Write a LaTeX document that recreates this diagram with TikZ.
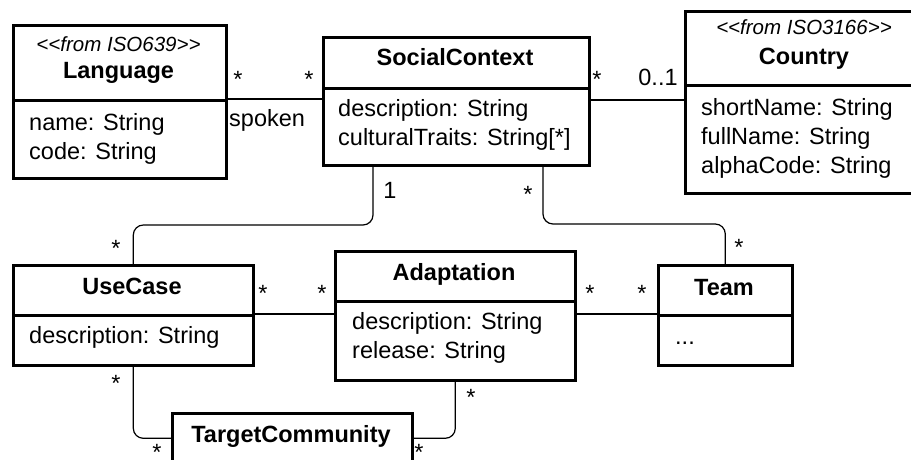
\documentclass[tikz,border=0pt]{standalone}
\usepackage{fontspec}
\setmainfont{Liberation Sans}[Ligatures=TeXOff]
\begin{document}
\begin{tikzpicture}[x=1pt,y=-1pt,
  box/.style={draw=black,line width=2.6pt,anchor=north west,inner sep=0pt,rectangle},
  conn/.style={draw=black,line width=1.2pt,rounded corners=10pt},
  txt/.style={inner sep=0pt,anchor=base},
  attr/.style={inner sep=0pt,anchor=base west},
  cname/.style={txt,font=\bfseries},
  stereo/.style={txt,font=\fontsize{20.5}{24}\selectfont\itshape},
  mult/.style={inner sep=0pt,anchor=base}]
\useasboundingbox (0,0) rectangle (911,460);
\clip (0,0) rectangle (911,460);
\fontsize{23.5}{29}\selectfont
% boxes
\node[box,minimum width=213pt,minimum height=75pt] (lang) at (12,24) {};
\node[box,minimum width=213pt,minimum height=78pt] (langA) at (12,99) {};
\node[box,minimum width=266pt,minimum height=51pt] (sc) at (322,36) {};
\node[box,minimum width=266pt,minimum height=77pt] (scA) at (322,87) {};
\node[box,minimum width=240pt,minimum height=74pt] (co) at (684,10) {};
\node[box,minimum width=240pt,minimum height=108pt] (coA) at (684,84) {};
\node[box,minimum width=240pt,minimum height=50pt] (uc) at (12,264) {};
\node[box,minimum width=240pt,minimum height=50pt] (ucA) at (12,314) {};
\node[box,minimum width=240pt,minimum height=50pt] (ad) at (334,250) {};
\node[box,minimum width=240pt,minimum height=79pt] (adA) at (334,300) {};
\node[box,minimum width=134pt,minimum height=50pt] (tm) at (657,264) {};
\node[box,minimum width=134pt,minimum height=50pt] (tmA) at (657,314) {};
\node[box,minimum width=240pt,minimum height=50pt] (tc) at (171,412) {};
\node[box,minimum width=240pt,minimum height=50pt] (tcA) at (171,462) {};
% texts
\node[stereo] (langS) at (118.5,52) {<<from ISO639>>};
\node[cname] (langN) at (118.5,79) {Language};
\node[attr] (langA1) at (29,131) {name: String};
\node[attr] (langA2) at (29,159) {code: String};
\node[cname] (scN) at (455,66) {SocialContext};
\node[attr] (scA1) at (338,117) {description: String};
\node[attr] (scA2) at (338,146) {culturalTraits: String[*]};
\node[stereo] (coS) at (804,35) {<<from ISO3166>>};
\node[cname] (coN) at (804,65) {Country};
\node[attr] (coA1) at (701,115) {shortName: String};
\node[attr] (coA2) at (701,144) {fullName: String};
\node[attr] (coA3) at (701,173) {alphaCode: String};
\node[cname] (ucN) at (132,294) {UseCase};
\node[attr] (ucA1) at (29,343) {description: String};
\node[cname] (adN) at (454,280) {Adaptation};
\node[attr] (adA1) at (352,329) {description: String};
\node[attr] (adA2) at (352,358) {release: String};
\node[cname] (tmN) at (724,295) {Team};
\node[attr] (tmA1) at (675,344) {...};
\node[cname] (tcN) at (291,442) {TargetCommunity};
% connectors
\coordinate (cy) at (0,100);
\coordinate (k1) at (373,225);
\coordinate (k2) at (543,224);
\draw[conn] (langA.north east) -- (langA.north east -| sc.west);
\draw[conn] (scA.east |- cy) -- (co.west |- cy);
\draw[conn] (k1 |- scA.south) -- (k1) -- (k1 -| uc.north) -- (uc.north);
\draw[conn] (k2 |- scA.south) -- (k2) -- (k2 -| tm.north) -- (tm.north);
\draw[conn] (ucA.north east) -- (ucA.north east -| adA.west);
\draw[conn] (tmA.north west -| adA.east) -- (tmA.north west);
\draw[conn] (ucA.south) |- (tc.west);
\draw[conn] (adA.south) |- (tc.east);
% multiplicities
\node[mult] (m1) at (238,88) {*};
\node[mult] (m2) at (309,88) {*};
\node[attr] (spk) at (229,127) {spoken};
\node[mult] (m3) at (597,88) {*};
\node[mult] (m4) at (658,86) {0..1};
\node[mult] (m5) at (390,198) {1};
\node[mult] (m6) at (528,202) {*};
\node[mult] (m7) at (116,256) {*};
\node[mult] (m8) at (739,255) {*};
\node[mult] (m9) at (263,301) {*};
\node[mult] (m10) at (322,301) {*};
\node[mult] (m11) at (590,301) {*};
\node[mult] (m12) at (642,301) {*};
\node[mult] (m13) at (116,391) {*};
\node[mult] (m14) at (157,460) {*};
\node[mult] (m15) at (471,405) {*};
\node[mult] (m16) at (419,460) {*};
\end{tikzpicture}
\end{document}
